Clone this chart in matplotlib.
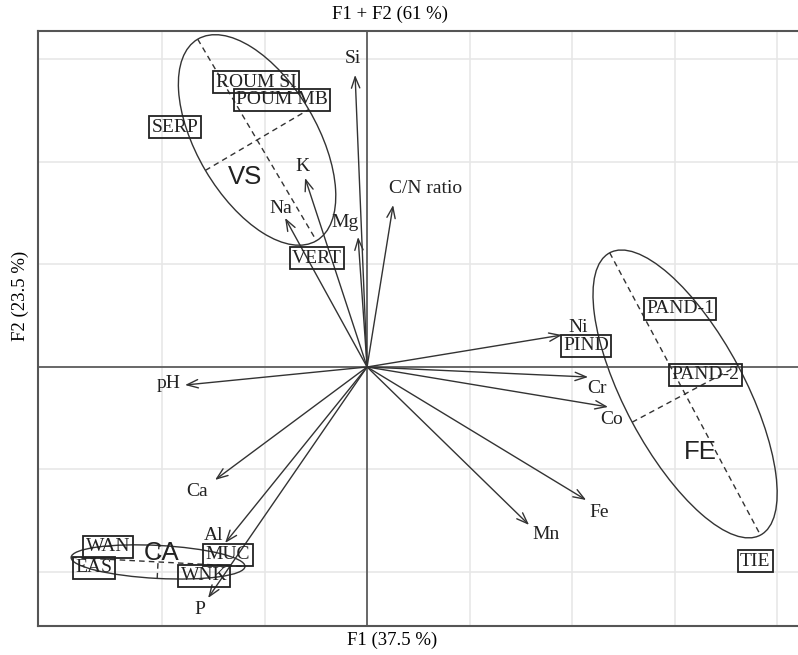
import numpy as np
import matplotlib
matplotlib.use("Agg")
import matplotlib.pyplot as plt
from matplotlib.patches import Ellipse

plt.rcParams['font.family'] = ['Liberation Serif', 'DejaVu Serif']

# variables (arrows from the origin)
var_names = ["Si", "K", "Na", "Mg", "C/N ratio", "pH", "Ca", "Al", "P",
             "Ni", "Cr", "Co", "Fe", "Mn"]
var_f1 = [-0.117, -0.605, -0.800, -0.088, 0.254, -1.776, -1.483, -1.385, -1.551,
          1.902, 2.156, 2.351, 2.137, 1.580]
var_f2 = [2.849, 1.844, 1.454, 1.268, 1.580, -0.176, -1.102, -1.717, -2.254,
          0.312, -0.098, -0.390, -1.298, -1.541]

# sites (boxed labels)
site_names = ["ROUM SI", "POUM MB", "SERP", "VERT", "WAN", "EAS", "MUC", "WNK",
              "PIND", "PAND-1", "PAND-2", "TIE"]
site_f1 = [-1.083, -0.829, -1.873, -0.488, -2.527, -2.663, -1.356, -1.590,
           2.137, 3.054, 3.298, 3.785]
site_f2 = [2.780, 2.605, 2.341, 1.063, -1.756, -1.961, -1.834, -2.039,
           0.205, 0.566, -0.078, -1.893]

# groups: ellipse centre, semi axes, angle, label position
grp_names = ["VS", "CA", "FE"]
grp_cx = [-1.073, -2.039, 3.102]
grp_cy = [2.215, -1.902, -0.263]
grp_a = [1.141, 0.849, 1.561]
grp_b = [0.585, 0.161, 0.585]
grp_angle = [-59.5, -3.0, -61.9]
grp_lx = [-1.190, -2.000, 3.249]
grp_ly = [1.854, -1.815, -0.829]

# label offsets (pixels) for the variable names
lab_off = {"Si": (-2, 16, 'center'), "K": (-3, 11, 'center'), "Na": (-4, 9, 'center'),
           "Mg": (-13, 15, 'center'), "C/N ratio": (32, 17, 'center'),
           "pH": (-4, 2, 'right'), "Ca": (-18, -12, 'center'), "Al": (-12, 7, 'center'),
           "P": (-8, -11, 'center'), "Ni": (16, 8, 'center'), "Cr": (9, -11, 'center'),
           "Co": (4, -13, 'center'), "Fe": (13, -12, 'center'), "Mn": (17, -10, 'center')}

W, H = 798, 655
fig = plt.figure(figsize=(W / 100, H / 100), dpi=100)
ax = fig.add_axes([38 / W, (H - 626) / H, (812 - 38) / W, (626 - 31) / H])
ax.set_xlim(-3.21, 4.34)
ax.set_ylim(-2.527, 3.278)
ax.set_xticks(range(-2, 5))
ax.set_yticks(range(-2, 4))
ax.tick_params(length=0, labelbottom=False, labelleft=False)
ax.grid(True, color='#e6e6e6', lw=1.1)
ax.set_axisbelow(True)
for sp in ax.spines.values():
    sp.set_color('#555555')
    sp.set_linewidth(1.5)

ax.axhline(0, color='#444444', lw=1.1)
ax.axvline(0, color='#444444', lw=1.1)

lc = '#333333'
# ellipses with dashed axes
for i, g in enumerate(grp_names):
    cx, cy, a, b, ang = grp_cx[i], grp_cy[i], grp_a[i], grp_b[i], grp_angle[i]
    ax.add_patch(Ellipse((cx, cy), 2 * a, 2 * b, angle=ang, fill=False,
                         ec=lc, lw=1.0))
    t = np.deg2rad(ang)
    ux, uy = np.cos(t), np.sin(t)
    ax.plot([cx - a * ux, cx + a * ux], [cy - a * uy, cy + a * uy],
            ls=(0, (4, 3)), color=lc, lw=1.0)
    ax.plot([cx + b * uy, cx - b * uy], [cy - b * ux, cy + b * ux],
            ls=(0, (4, 3)), color=lc, lw=1.0)
    ax.text(grp_lx[i], grp_ly[i], g, family=['Liberation Sans', 'DejaVu Sans'],
            fontsize=18.5, ha='center', va='center', color='#222222')

# variable arrows
for n, x, y in zip(var_names, var_f1, var_f2):
    ax.annotate('', xy=(x, y), xytext=(0, 0),
                arrowprops=dict(arrowstyle='->,head_length=0.8,head_width=0.3',
                                color=lc, lw=1.0, shrinkA=0, shrinkB=0))
    dx, dy, ha = lab_off[n]
    ax.annotate(n, xy=(x, y), xytext=(dx, dy), textcoords='offset pixels',
                ha=ha, va='center', fontsize=14, color='#222222')

# site labels
for n, x, y in zip(site_names, site_f1, site_f2):
    ax.text(x, y, n, ha='center', va='center', fontsize=14, color='#222222',
            bbox=dict(boxstyle='square,pad=0.12', fc='none', ec='#222222', lw=1.3))

fig.text(390 / W, 1 - 14 / H, "F1 + F2 (61 %)", ha='center', va='center', fontsize=13.5)
fig.text(392 / W, 1 - 640 / H, "F1 (37.5 %)", ha='center', va='center', fontsize=13.5)
fig.text(20 / W, 1 - 296 / H, "F2 (23.5 %)", ha='center', va='center', fontsize=13.5,
         rotation=90)

fig.savefig("out.png", dpi=100)
